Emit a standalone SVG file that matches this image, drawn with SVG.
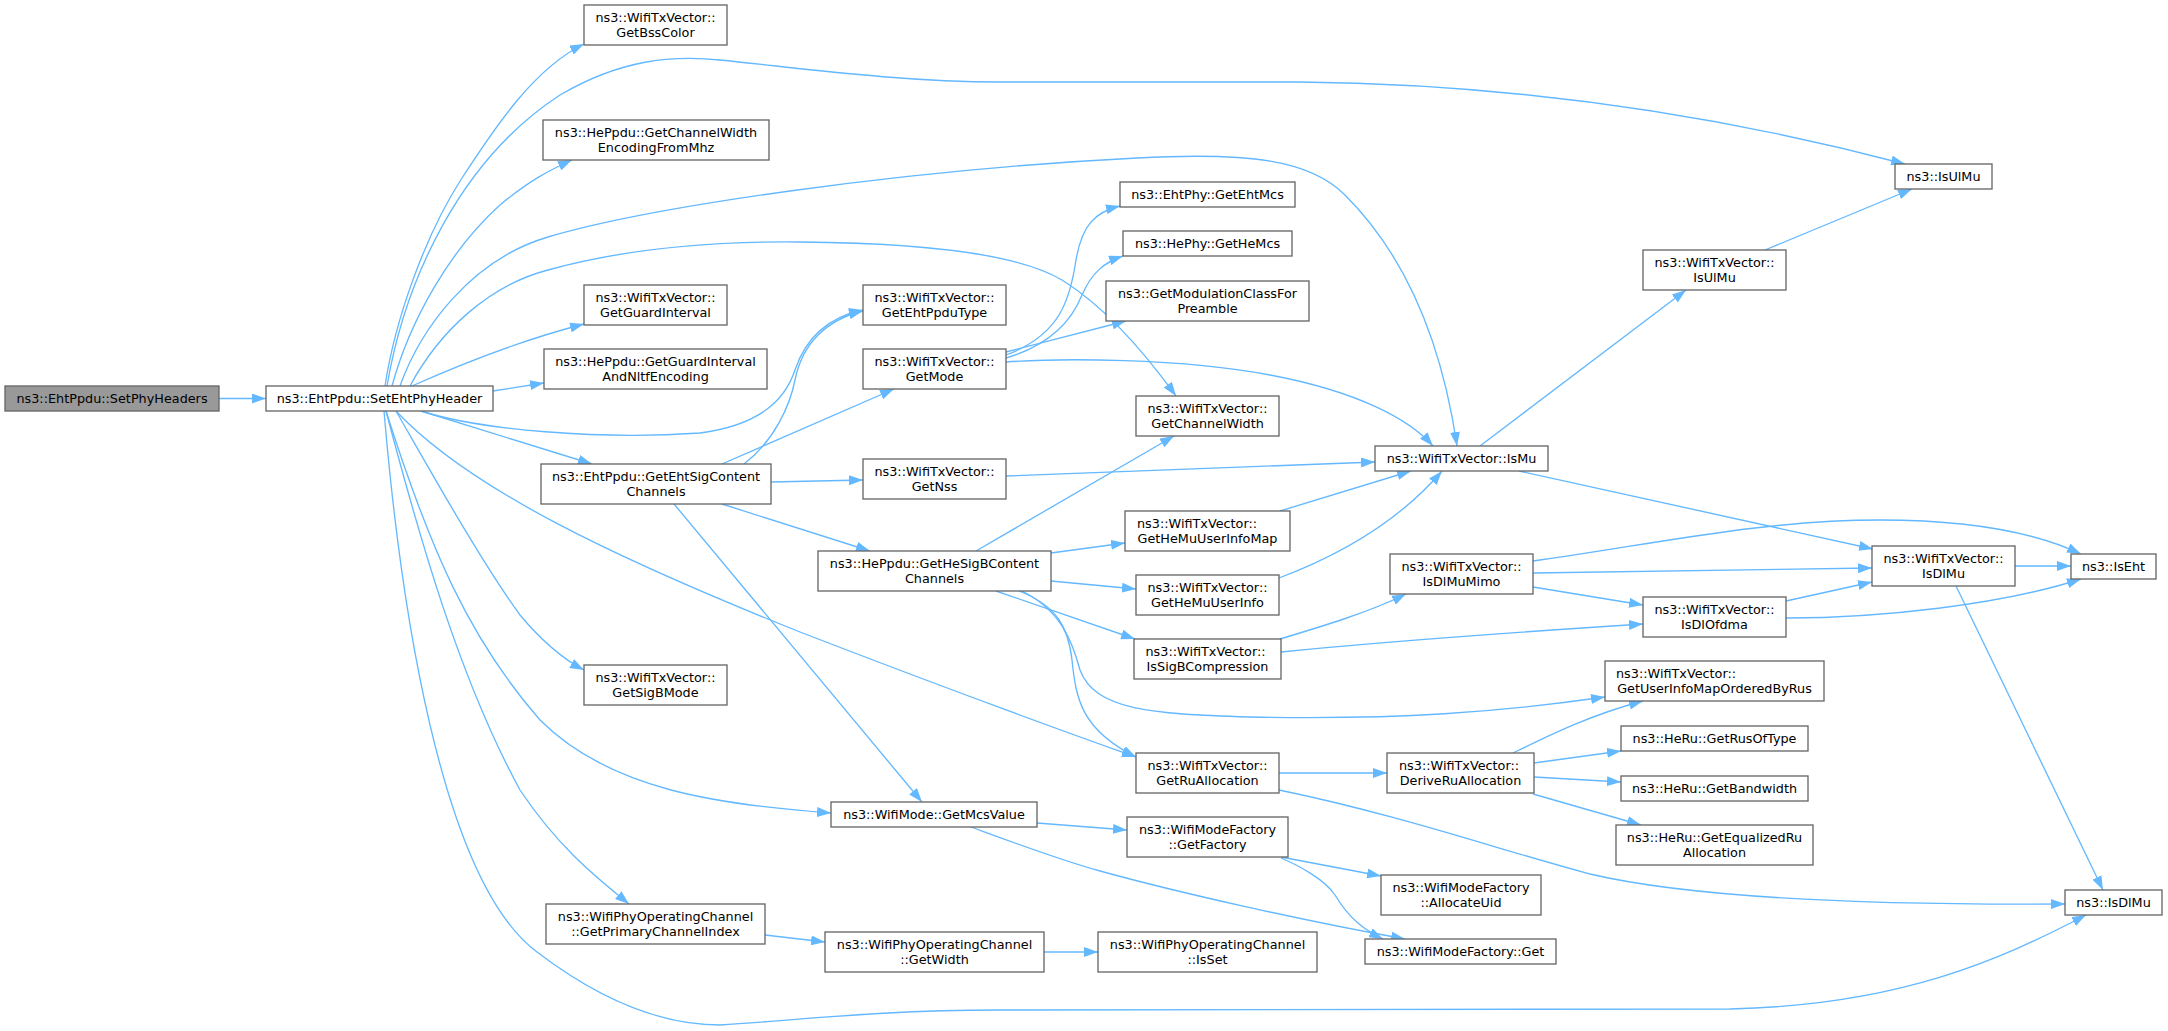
<svg xmlns="http://www.w3.org/2000/svg" width="2168" height="1031" viewBox="0 0 2168 1031">
<style>
.node rect{fill:#ffffff;stroke:#666666;stroke-width:1.33}
.root rect{fill:#999999}
text{font-family:"DejaVu Sans","Liberation Sans",sans-serif;font-size:12.8px;fill:#000000}
.c{text-anchor:middle}
.l{text-anchor:start}
.edges path{fill:none;stroke:#63b8ff;stroke-width:1.33;marker-end:url(#arr)}
</style>
<defs>
<marker id="arr" markerUnits="userSpaceOnUse" markerWidth="14" markerHeight="10" viewBox="0 0 14 10" refX="14" refY="5" orient="auto">
<path d="M0,0 L14,5 L0,10 z" fill="#63b8ff"/>
</marker>
</defs>
<rect x="0" y="0" width="2168" height="1031" fill="#ffffff"/>
<g class="edges">
<path d="M219,398.5 L266,398.5"/>
<path d="M385,386 C395,320 425,235 462,178 C497,124 535,68 584,44"/>
<path d="M387,386 C405,280 460,160 560,95 C620,60 670,55 720,60 C800,68 900,82 1000,82 L1300,82 C1500,84 1700,110 1905,164"/>
<path d="M392,386 C410,320 450,250 500,205 C530,180 550,170 572,160"/>
<path d="M400,386 C420,330 470,260 548,237 C650,207 900,170 1137,158 C1250,152 1310,160 1345,195 C1400,250 1440,330 1457,446"/>
<path d="M410,386 C440,330 490,285 548,270 C620,250 700,241 800,242 C930,243 1020,255 1062,280 C1110,310 1150,360 1176,396"/>
<path d="M412,386 C470,360 530,338 584,324"/>
<path d="M493,391 L544,383"/>
<path d="M421,411 C480,430 600,440 700,433 C760,425 785,400 795,370 C805,340 825,318 863,310"/>
<path d="M744,464 C775,440 790,405 795,380 C802,345 825,320 863,311"/>
<path d="M421,411 L592,464"/>
<path d="M396,411 C470,490 620,560 800,632 C950,690 1060,730 1136,757"/>
<path d="M396,411 C430,470 480,560 520,615 C545,645 565,660 584,670"/>
<path d="M386,411 C430,550 470,640 540,720 C610,790 720,805 831,813"/>
<path d="M386,411 C420,540 460,680 520,790 C560,850 600,880 629,904"/>
<path d="M384,411 C400,600 440,880 537,952 C600,1000 660,1025 720,1025 C800,1020 880,1010 1000,1010 L1730,1009 C1900,1005 2000,960 2086,915"/>
<path d="M722,464 L894,389"/>
<path d="M771,482 L863,480"/>
<path d="M722,504 L870,551"/>
<path d="M674,504 L922,802"/>
<path d="M1006,355 C1060,335 1070,300 1076,260 C1082,225 1095,212 1120,206"/>
<path d="M1006,358 C1050,345 1072,320 1082,295 C1092,272 1105,262 1123,256"/>
<path d="M1006,352 L1126,321"/>
<path d="M1006,362 C1060,358 1180,358 1270,375 C1360,392 1410,420 1433,446"/>
<path d="M1006,476 L1375,462"/>
<path d="M976,551 L1174,436"/>
<path d="M1051,553 L1125,543"/>
<path d="M1051,581 L1136,589"/>
<path d="M996,591 L1135,639"/>
<path d="M1019,591 C1055,605 1068,625 1072,660 C1076,700 1082,730 1136,757"/>
<path d="M1022,591 C1060,610 1072,640 1080,670 C1095,710 1150,714 1250,717 C1400,720 1500,712 1605,697"/>
<path d="M1280,511 L1411,471"/>
<path d="M1279,578 C1340,555 1400,520 1442,471"/>
<path d="M1280,639 C1320,627 1370,612 1406,594"/>
<path d="M1281,652 C1400,640 1550,630 1643,624"/>
<path d="M1480,446 L1686,290"/>
<path d="M1519,471 L1873,549"/>
<path d="M1765,250 L1912,189"/>
<path d="M1533,561 C1650,545 1760,520 1880,520 C1960,520 2030,530 2081,554"/>
<path d="M1533,573 L1872,568"/>
<path d="M1533,587 L1643,605"/>
<path d="M1786,601 L1872,582"/>
<path d="M1786,618 C1880,618 2000,605 2081,579"/>
<path d="M2015,566 L2071,566"/>
<path d="M1956,586 L2103,890"/>
<path d="M1279,773 L1387,773"/>
<path d="M1279,790 C1400,815 1500,850 1590,874 C1700,900 1900,905 2065,904"/>
<path d="M1513,753 C1550,735 1590,715 1643,701"/>
<path d="M1534,763 L1621,751"/>
<path d="M1534,777 L1621,782"/>
<path d="M1533,794 L1641,825"/>
<path d="M1037,823 L1127,830"/>
<path d="M971,827 C1020,845 1060,860 1100,871 C1180,893 1300,920 1405,939"/>
<path d="M1281,857 L1381,876"/>
<path d="M1281,858 C1300,866 1325,880 1335,895 C1350,920 1365,930 1383,939"/>
<path d="M765,935 L825,942"/>
<path d="M1044,952 L1098,952"/>
</g>
<g id="n1" class="node root"><rect x="5" y="386" width="214" height="25"/><text class="c" x="112" y="403">ns3::EhtPpdu::SetPhyHeaders</text></g>
<g id="n2" class="node"><rect x="266" y="386" width="227" height="25"/><text class="c" x="379.5" y="403">ns3::EhtPpdu::SetEhtPhyHeader</text></g>
<g id="n3" class="node"><rect x="584" y="5" width="143" height="40"/><text class="c" x="655.5" y="21.5">ns3::WifiTxVector::</text><text class="c" x="655.5" y="36.5">GetBssColor</text></g>
<g id="n4" class="node"><rect x="543" y="120" width="226" height="40"/><text class="c" x="656" y="136.5">ns3::HePpdu::GetChannelWidth</text><text class="c" x="656" y="151.5">EncodingFromMhz</text></g>
<g id="n5" class="node"><rect x="584" y="285" width="143" height="40"/><text class="c" x="655.5" y="301.5">ns3::WifiTxVector::</text><text class="c" x="655.5" y="316.5">GetGuardInterval</text></g>
<g id="n6" class="node"><rect x="544" y="349" width="223" height="40"/><text class="c" x="655.5" y="365.5">ns3::HePpdu::GetGuardInterval</text><text class="c" x="655.5" y="380.5">AndNltfEncoding</text></g>
<g id="n7" class="node"><rect x="541" y="464" width="230" height="40"/><text class="c" x="656" y="480.5">ns3::EhtPpdu::GetEhtSigContent</text><text class="c" x="656" y="495.5">Channels</text></g>
<g id="n8" class="node"><rect x="584" y="665" width="143" height="40"/><text class="c" x="655.5" y="681.5">ns3::WifiTxVector::</text><text class="c" x="655.5" y="696.5">GetSigBMode</text></g>
<g id="n9" class="node"><rect x="546" y="904" width="219" height="40"/><text class="c" x="655.5" y="920.5">ns3::WifiPhyOperatingChannel</text><text class="c" x="655.5" y="935.5">::GetPrimaryChannelIndex</text></g>
<g id="n10" class="node"><rect x="863" y="285" width="143" height="40"/><text class="c" x="934.5" y="301.5">ns3::WifiTxVector::</text><text class="c" x="934.5" y="316.5">GetEhtPpduType</text></g>
<g id="n11" class="node"><rect x="863" y="349" width="143" height="40"/><text class="c" x="934.5" y="365.5">ns3::WifiTxVector::</text><text class="c" x="934.5" y="380.5">GetMode</text></g>
<g id="n12" class="node"><rect x="863" y="459" width="143" height="40"/><text class="c" x="934.5" y="475.5">ns3::WifiTxVector::</text><text class="c" x="934.5" y="490.5">GetNss</text></g>
<g id="n13" class="node"><rect x="818" y="551" width="233" height="40"/><text class="c" x="934.5" y="567.5">ns3::HePpdu::GetHeSigBContent</text><text class="c" x="934.5" y="582.5">Channels</text></g>
<g id="n14" class="node"><rect x="831" y="802" width="206" height="25"/><text class="c" x="934" y="819">ns3::WifiMode::GetMcsValue</text></g>
<g id="n15" class="node"><rect x="825" y="932" width="219" height="40"/><text class="c" x="934.5" y="948.5">ns3::WifiPhyOperatingChannel</text><text class="c" x="934.5" y="963.5">::GetWidth</text></g>
<g id="n16" class="node"><rect x="1120" y="182" width="175" height="25"/><text class="c" x="1207.5" y="199">ns3::EhtPhy::GetEhtMcs</text></g>
<g id="n17" class="node"><rect x="1123" y="231" width="169" height="25"/><text class="c" x="1207.5" y="248">ns3::HePhy::GetHeMcs</text></g>
<g id="n18" class="node"><rect x="1106" y="281" width="203" height="40"/><text class="c" x="1207.5" y="297.5">ns3::GetModulationClassFor</text><text class="c" x="1207.5" y="312.5">Preamble</text></g>
<g id="n19" class="node"><rect x="1136" y="396" width="143" height="40"/><text class="c" x="1207.5" y="412.5">ns3::WifiTxVector::</text><text class="c" x="1207.5" y="427.5">GetChannelWidth</text></g>
<g id="n20" class="node"><rect x="1125" y="511" width="165" height="40"/><text class="l" x="1137" y="527.5">ns3::WifiTxVector::</text><text class="c" x="1207.5" y="542.5">GetHeMuUserInfoMap</text></g>
<g id="n21" class="node"><rect x="1136" y="575" width="143" height="40"/><text class="c" x="1207.5" y="591.5">ns3::WifiTxVector::</text><text class="c" x="1207.5" y="606.5">GetHeMuUserInfo</text></g>
<g id="n22" class="node"><rect x="1134" y="639" width="147" height="40"/><text class="l" x="1145.5" y="655.5">ns3::WifiTxVector::</text><text class="c" x="1207.5" y="670.5">IsSigBCompression</text></g>
<g id="n23" class="node"><rect x="1136" y="753" width="143" height="40"/><text class="c" x="1207.5" y="769.5">ns3::WifiTxVector::</text><text class="c" x="1207.5" y="784.5">GetRuAllocation</text></g>
<g id="n24" class="node"><rect x="1127" y="817" width="161" height="40"/><text class="c" x="1207.5" y="833.5">ns3::WifiModeFactory</text><text class="c" x="1207.5" y="848.5">::GetFactory</text></g>
<g id="n25" class="node"><rect x="1098" y="932" width="219" height="40"/><text class="c" x="1207.5" y="948.5">ns3::WifiPhyOperatingChannel</text><text class="c" x="1207.5" y="963.5">::IsSet</text></g>
<g id="n26" class="node"><rect x="1895" y="164" width="97" height="25"/><text class="c" x="1943.5" y="181">ns3::IsUlMu</text></g>
<g id="n27" class="node"><rect x="1643" y="250" width="143" height="40"/><text class="c" x="1714.5" y="266.5">ns3::WifiTxVector::</text><text class="c" x="1714.5" y="281.5">IsUlMu</text></g>
<g id="n28" class="node"><rect x="1375" y="446" width="173" height="25"/><text class="c" x="1461.5" y="463">ns3::WifiTxVector::IsMu</text></g>
<g id="n29" class="node"><rect x="1390" y="554" width="143" height="40"/><text class="c" x="1461.5" y="570.5">ns3::WifiTxVector::</text><text class="c" x="1461.5" y="585.5">IsDlMuMimo</text></g>
<g id="n30" class="node"><rect x="1643" y="597" width="143" height="40"/><text class="c" x="1714.5" y="613.5">ns3::WifiTxVector::</text><text class="c" x="1714.5" y="628.5">IsDlOfdma</text></g>
<g id="n31" class="node"><rect x="1605" y="661" width="219" height="40"/><text class="l" x="1616" y="677.5">ns3::WifiTxVector::</text><text class="c" x="1714.5" y="692.5">GetUserInfoMapOrderedByRus</text></g>
<g id="n32" class="node"><rect x="1387" y="753" width="147" height="40"/><text class="l" x="1399" y="769.5">ns3::WifiTxVector::</text><text class="c" x="1460.5" y="784.5">DeriveRuAllocation</text></g>
<g id="n33" class="node"><rect x="1621" y="726" width="187" height="25"/><text class="c" x="1714.5" y="743">ns3::HeRu::GetRusOfType</text></g>
<g id="n34" class="node"><rect x="1621" y="776" width="187" height="25"/><text class="c" x="1714.5" y="793">ns3::HeRu::GetBandwidth</text></g>
<g id="n35" class="node"><rect x="1616" y="825" width="197" height="40"/><text class="c" x="1714.5" y="841.5">ns3::HeRu::GetEqualizedRu</text><text class="c" x="1714.5" y="856.5">Allocation</text></g>
<g id="n36" class="node"><rect x="1381" y="875" width="160" height="40"/><text class="c" x="1461" y="891.5">ns3::WifiModeFactory</text><text class="c" x="1461" y="906.5">::AllocateUid</text></g>
<g id="n37" class="node"><rect x="1365" y="939" width="191" height="25"/><text class="c" x="1460.5" y="956">ns3::WifiModeFactory::Get</text></g>
<g id="n38" class="node"><rect x="1872" y="546" width="143" height="40"/><text class="c" x="1943.5" y="562.5">ns3::WifiTxVector::</text><text class="c" x="1943.5" y="577.5">IsDlMu</text></g>
<g id="n39" class="node"><rect x="2071" y="554" width="85" height="25"/><text class="c" x="2113.5" y="571">ns3::IsEht</text></g>
<g id="n40" class="node"><rect x="2065" y="890" width="97" height="25"/><text class="c" x="2113.5" y="907">ns3::IsDlMu</text></g>
</svg>
